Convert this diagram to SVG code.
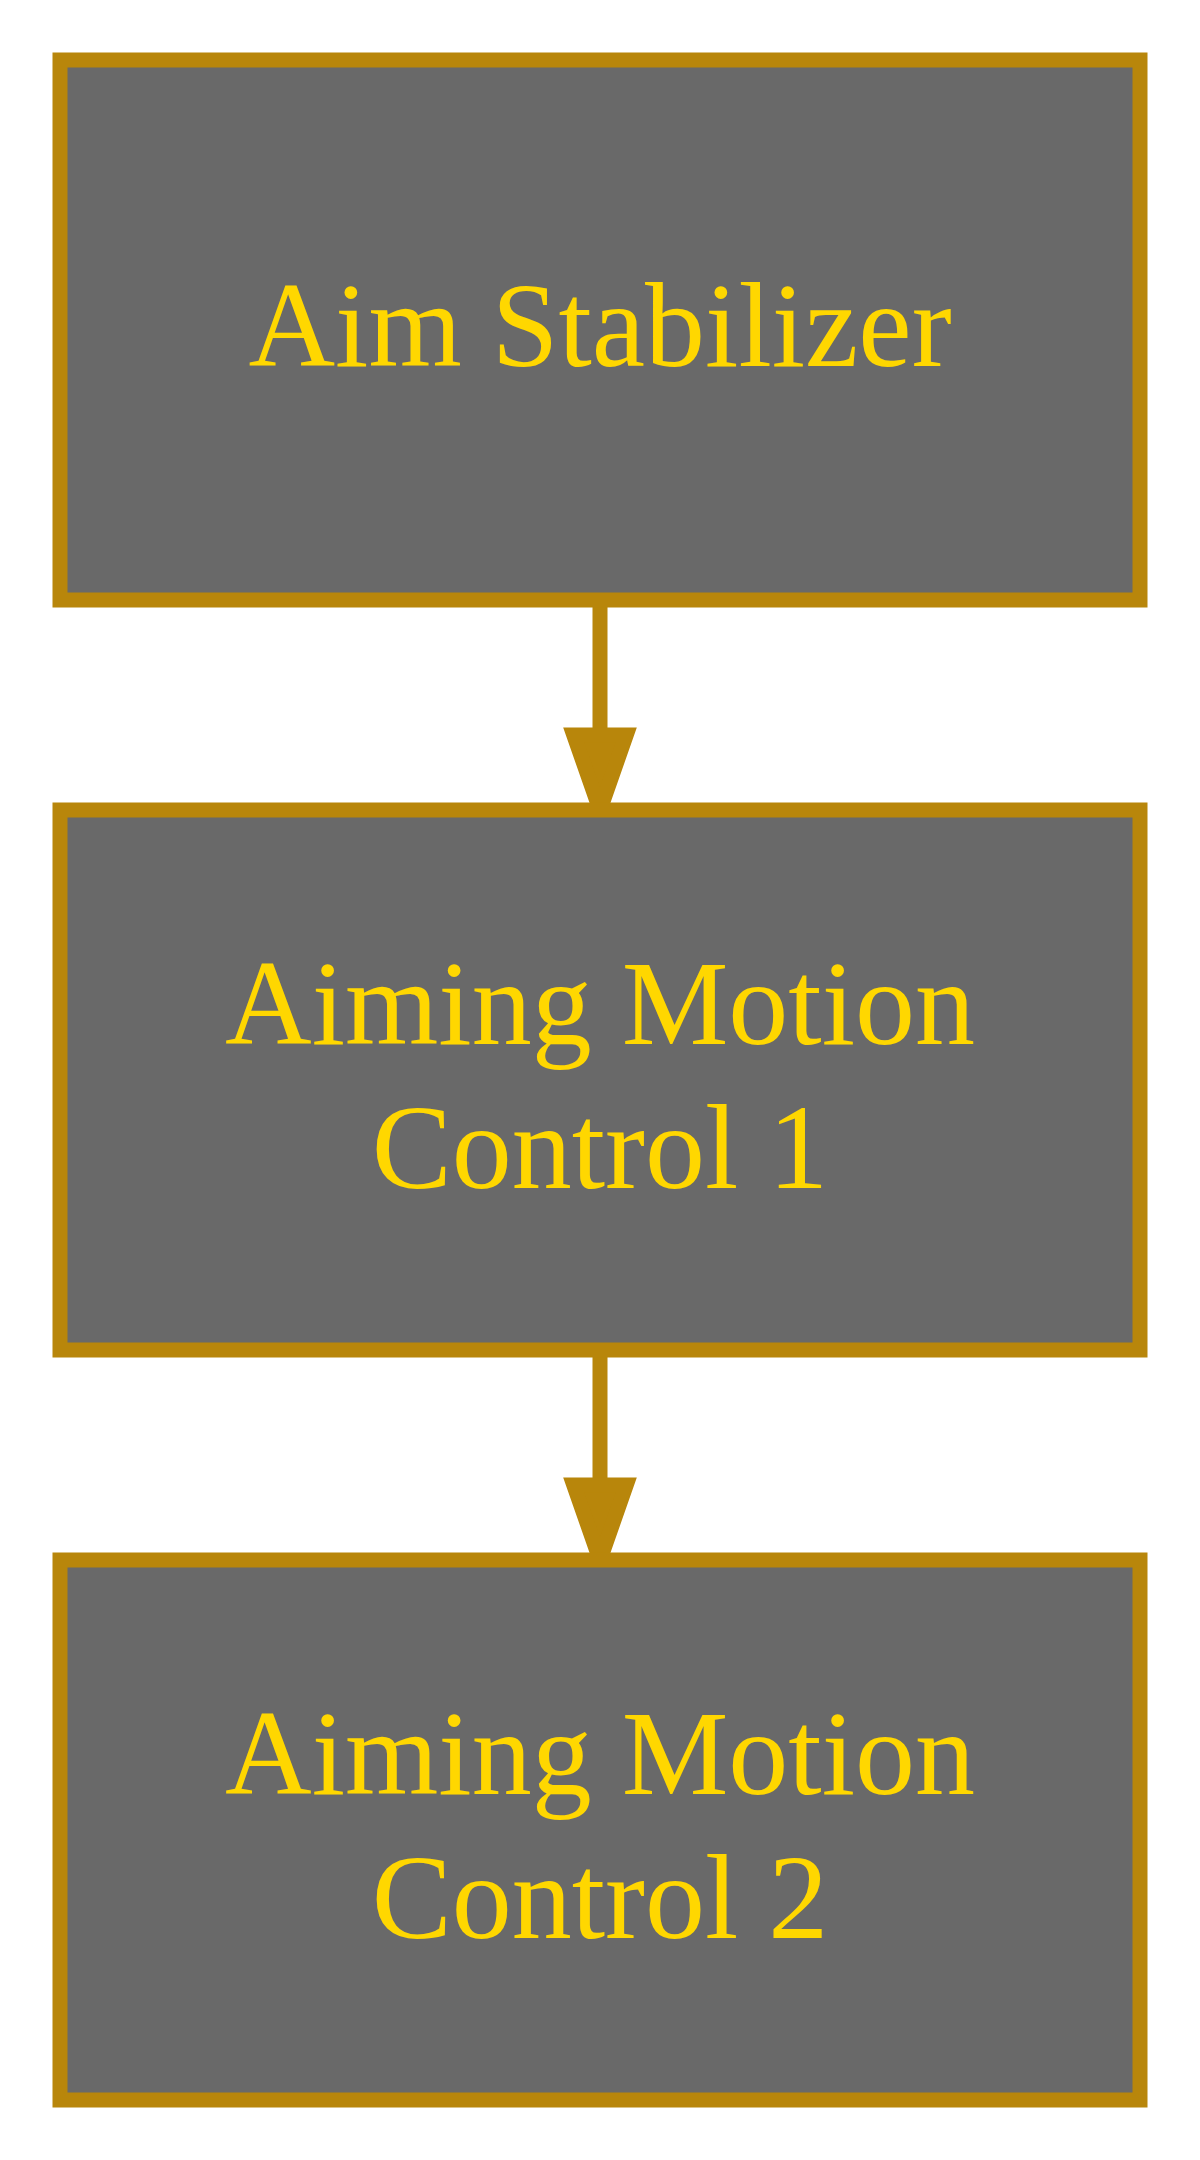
<svg xmlns="http://www.w3.org/2000/svg" width="1200" height="2160" viewBox="0 0 1200 2160">
<style>
.node rect{fill:#696969;stroke:#b8860b;stroke-width:15}
.node text{font-family:"Liberation Serif","Times New Roman",serif;font-size:120px;fill:#ffd700;text-anchor:middle}
.edge line{stroke:#b8860b;stroke-width:15}
.edge polygon{fill:#b8860b;stroke:#b8860b;stroke-width:15}
</style>
<rect width="1200" height="2160" fill="#ffffff"/>
<g id="connectors">
<g class="edge" id="e1">
<line x1="600" y1="600" x2="600" y2="735"/>
<polygon points="573.75,735 626.25,735 600,810"/>
</g>
<g class="edge" id="e2">
<line x1="600" y1="1350" x2="600" y2="1485"/>
<polygon points="573.75,1485 626.25,1485 600,1560"/>
</g>
</g>
<g class="node" id="aim_stabilizer">
<rect x="60" y="60" width="1080" height="540"/>
<text x="600" y="366">Aim Stabilizer</text>
</g>
<g class="node" id="aiming_motion_control_1">
<rect x="60" y="810" width="1080" height="540"/>
<text x="600" y="1044">Aiming Motion</text>
<text x="600" y="1188">Control 1</text>
</g>
<g class="node" id="aiming_motion_control_2">
<rect x="60" y="1560" width="1080" height="540"/>
<text x="600" y="1794">Aiming Motion</text>
<text x="600" y="1938">Control 2</text>
</g>
</svg>
